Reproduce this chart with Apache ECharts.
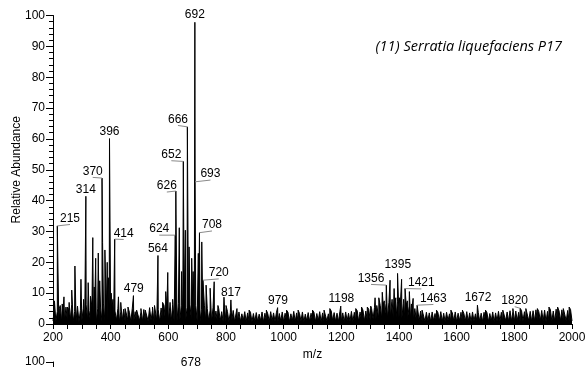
<!DOCTYPE html>
<html>
<head>
<meta charset="utf-8">
<script src="https://cdn.jsdelivr.net/npm/echarts@6/dist/echarts.min.js"></script>
<style>
html,body{margin:0;padding:0;background:#fff;overflow:hidden;}
#chart{width:587px;height:367px;}
</style>
</head>
<body>
<div id="chart"></div>
<script>
// ---- data ----
const titleText = "(11) Serratia liquefaciens P17";
const xTickValues = [200, 400, 600, 800, 1000, 1200, 1400, 1600, 1800, 2000];
const yTickValues = [0, 10, 20, 30, 40, 50, 60, 70, 80, 90, 100];

// baseline noise, one value every 5 m/z starting at 200
const noiseStart = 200;
const noiseStep = 5;
const noiseValues = [
  1.0,5.2,0.8,4.1,1.2,6.0,0.7,3.8,1.1,5.5,0.9,4.6,1.3,6.4,0.8,4.0,1.0,5.8,0.7,4.4,
  1.1,5.0,0.8,6.2,1.2,4.3,0.9,5.6,1.0,6.8,0.7,4.9,1.3,5.2,0.8,6.5,1.1,4.7,0.9,5.9,
  1.0,5.4,0.8,4.2,1.2,5.0,0.7,3.9,1.1,4.8,0.9,4.4,1.2,3.8,0.8,5.1,1.0,4.0,0.7,4.6,
  1.1,3.9,0.8,4.7,1.0,4.1,0.9,5.3,1.2,4.4,0.7,5.8,1.1,4.6,0.8,5.2,1.0,6.1,0.9,5.0,
  1.2,5.5,0.8,6.3,1.0,5.1,0.9,6.6,1.3,5.9,0.8,6.9,1.1,5.4,0.9,6.2,1.2,5.7,0.8,6.0,
  1.0,5.6,0.9,4.8,1.2,6.1,0.8,5.0,1.1,4.5,0.7,5.3,1.0,4.2,0.9,4.9,1.1,4.0,0.8,5.2,
  1.0,4.1,0.8,3.7,1.1,4.4,0.7,3.5,1.0,3.9,0.9,3.3,1.2,4.0,0.8,3.6,1.0,3.8,0.7,3.4,
  0.9,3.7,0.8,3.2,1.1,3.9,0.7,3.5,1.0,3.3,0.8,4.0,1.1,3.6,0.9,3.8,0.7,3.4,1.0,3.9,
  0.8,3.5,1.0,3.8,0.7,3.3,1.1,4.1,0.9,3.6,0.8,3.4,1.0,3.9,0.7,3.2,1.1,3.7,0.9,3.5,
  1.0,3.8,0.8,3.4,1.1,4.0,0.7,3.6,0.9,3.9,1.0,3.3,0.8,4.2,1.1,3.7,0.9,3.5,0.8,4.0,
  1.0,3.6,0.7,3.9,1.1,3.5,0.9,4.1,0.8,3.8,1.0,4.3,0.9,3.9,1.2,4.5,1.0,4.2,1.3,4.8,
  1.4,5.0,1.6,5.4,1.5,5.8,1.8,6.0,1.7,6.4,2.0,6.6,1.9,7.0,2.2,7.2,2.0,6.8,2.3,7.4,
  2.1,7.0,2.0,6.6,1.8,6.2,1.7,5.8,1.5,5.4,1.4,5.0,1.2,4.6,1.1,4.2,1.0,4.0,0.9,3.8,
  1.0,3.6,0.8,3.9,1.1,3.4,0.7,3.7,1.0,4.0,0.9,3.5,0.8,3.8,1.1,3.3,0.9,3.6,1.0,3.9,
  0.8,3.5,1.1,3.8,0.7,3.4,1.0,4.0,0.9,3.6,0.8,3.9,1.0,3.3,1.1,3.7,0.9,3.5,0.8,3.8,
  1.0,3.7,0.8,3.4,1.1,3.9,0.7,3.6,1.0,4.1,0.9,3.8,0.8,4.2,1.1,3.9,0.9,4.3,1.0,4.0,
  0.9,4.2,1.1,3.8,0.8,4.4,1.0,4.0,0.9,4.5,1.1,4.1,0.8,4.3,1.0,4.6,0.9,4.0,1.1,4.4,
  1.0,4.5,0.8,4.1,1.1,4.7,0.9,4.2,1.0,4.8,0.8,4.3,1.1,4.6,0.9,4.9,1.0,4.4,0.8,4.7,
  1.0
];

// unlabeled peaks
const peakMz = [205,222,232,238,250,256,265,276,285,297,
  306,322,330,338,343,348,357,362,372,380,
  388,392,402,408,427,435,450,460,490,505,
  520,545,552,580,591,598,606,615,638,646,
  659,672,681,686,704,716,731,745,759,772,
  793,800,838,880,940,1010,1050,1100,1140,1160,
  1250,1270,1290,1302,1317,1323,1330,1336,1342,1349,
  1369,1376,1383,1389,1402,1409,1416,1429,1436,1443,
  1449,1480,1530,1580,1620,1700,1760,1795,1840,1880,
  1920,1950,1970,1990];
const peakHeights = [7.5,5,6.5,8.8,5.5,7,11,18.8,6,14.5,
  8,13.4,9,28,12,21.3,23,14,26.4,24,
  20,15,10,8,8.8,7,5,5.5,4.5,5,
  4.5,5.5,6,7,10.5,16.7,7,8,31.2,17,
  30.4,25,21.3,17,22.9,26.6,12.6,11.6,13.7,6,
  8.7,6,5,4.5,4.5,4.5,4.5,4.5,4.5,5,
  5,5.5,5.5,5.8,8.5,6,8.5,6.5,10.3,7.5,
  14.2,8,11.5,8.5,8.5,14.5,8,7.5,10.5,6.5,
  8.3,4.5,4.5,4.5,4.5,4.5,4.5,5,5,5,
  5.5,5.5,5,5.5];

// labeled peaks
const labelMz = [215,314,370,396,414,479,564,624,626,652,666,692,693,708,720,817,979,1198,1356,1395,1421,1463,1672,1820];
const labelHeights = [31.8,41.4,47.3,60.1,27.5,9.2,22.2,28.8,43.1,52.7,63.9,97.8,46.1,29.6,14.2,7.8,5.3,5.8,12.6,16.4,11.5,6.1,6.1,5.1];

// second (cut-off) panel
const panel2Mz = [678];
const panel2Heights = [97.2];

// ---- style: label offsets (px from peak top) and leader flag ----
const labelStyle = {
  215:[12.7,-7.4,1], 314:[0,-7,0], 370:[-9.3,-6.7,1], 396:[0,-7.3,0], 414:[9,-5.7,1],
  479:[0.3,-7.4,0], 564:[0,-7,0], 624:[-16,-6,1], 626:[-9,-5,1], 652:[-12,-6.7,1],
  666:[-9.4,-7.4,1], 692:[0,-7.7,0], 693:[15.3,-7.7,1], 708:[12.5,-7.7,1], 720:[15.8,-7.3,1],
  817:[0,-7.3,0], 979:[0.4,-7,0], 1198:[0.6,-7.7,0], 1356:[-15.3,-6.7,1], 1395:[0.2,-8.3,0],
  1421:[16.3,-5.6,1], 1463:[16.2,-6.7,1], 1672:[0.6,-7.7,0], 1820:[-5.4,-7.6,1], 678:[0,-7.7,0]
};

// ---- build ----
const spectrum = [];
noiseValues.forEach((v, i) => spectrum.push([noiseStart + i * noiseStep, v]));
peakMz.forEach((m, i) => spectrum.push([m, peakHeights[i]]));
labelMz.forEach((m, i) => spectrum.push([m, labelHeights[i]]));
spectrum.sort((a, b) => a[0] - b[0]);

const labelData = labelMz.map((m, i) => [m, labelHeights[i]]);
const panel2Data = panel2Mz.map((m, i) => [m, panel2Heights[i]]);
const panel2Line = [];
panel2Mz.forEach((m, i) => { panel2Line.push([m - 2, 0], [m, panel2Heights[i]], [m + 2, 0]); });

const FONT = "'Liberation Sans', Arial, sans-serif";

function labelRender(params, api) {
  const mz = api.value(0), h = api.value(1);
  const p = api.coord([mz, h]);
  const st = labelStyle[mz] || [0, -7.5, 0];
  const children = [];
  if (st[2]) {
    children.push({
      type: 'line',
      shape: { x1: p[0], y1: p[1], x2: p[0] + st[0], y2: p[1] + st[1] + 6 },
      style: { stroke: '#8a8a8a', lineWidth: 1 }
    });
  }
  children.push({
    type: 'text',
    x: p[0] + st[0], y: p[1] + st[1],
    style: { text: String(mz), align: 'center', verticalAlign: 'middle',
             fontSize: 12, fontFamily: FONT, fill: '#000' }
  });
  return { type: 'group', children: children };
}

function xAxisCfg(gridIndex, show) {
  return {
    type: 'value', gridIndex: gridIndex, min: 200, max: 2000, interval: 200,
    name: show ? 'm/z' : '', nameLocation: 'middle', nameGap: 24,
    nameTextStyle: { fontSize: 12, fontFamily: FONT, color: '#000' },
    axisLine: { show: true, onZero: false, lineStyle: { color: '#000', width: 1 } },
    axisTick: { show: true, length: 5, lineStyle: { color: '#000' } },
    minorTick: { show: true, splitNumber: 4, length: 5, lineStyle: { color: '#000' } },
    axisLabel: { show: show, fontSize: 12, fontFamily: FONT, color: '#000', margin: 8,
                 formatter: v => xTickValues.indexOf(v) >= 0 ? String(v) : '' },
    splitLine: { show: false }
  };
}
function yAxisCfg(gridIndex, name) {
  return {
    type: 'value', gridIndex: gridIndex, min: 0, max: 100, interval: 10,
    name: name, nameLocation: 'middle', nameGap: 30, nameMoveOverlap: false,
    nameTextStyle: { fontSize: 12, fontFamily: FONT, color: '#000' },
    axisLine: { show: true, lineStyle: { color: '#000', width: 1 } },
    axisTick: { show: true, length: 7, lineStyle: { color: '#000' } },
    minorTick: { show: true, splitNumber: 5, length: 4, lineStyle: { color: '#000' } },
    axisLabel: { fontSize: 12, fontFamily: FONT, color: '#000', margin: 8,
                 formatter: v => yTickValues.indexOf(v) >= 0 ? String(v) : '' },
    splitLine: { show: false }
  };
}

const chart = echarts.init(document.getElementById('chart'), null, { renderer: 'canvas' });
chart.setOption({
  animation: false,
  backgroundColor: '#fff',
  graphic: [{
    type: 'text', x: 562, y: 46.5,
    style: { text: titleText, align: 'right', verticalAlign: 'middle',
             font: 'italic 14.5px "Open Sans", sans-serif', fill: '#000' }
  }],
  grid: [
    { left: 53, top: 15.5, width: 519, height: 308.5, outerBoundsMode: 'none', containLabel: false },
    { left: 53, top: 362, width: 519, height: 308.5, outerBoundsMode: 'none', containLabel: false }
  ],
  xAxis: [xAxisCfg(0, true), xAxisCfg(1, false)],
  yAxis: [yAxisCfg(0, 'Relative Abundance'), yAxisCfg(1, '')],
  series: [
    { type: 'line', xAxisIndex: 0, yAxisIndex: 0, data: spectrum, showSymbol: false,
      symbol: 'none', sampling: null, lineStyle: { color: '#000', width: 1 },
      areaStyle: { color: '#000', opacity: 1, origin: 'start' }, z: 2 },
    { type: 'custom', xAxisIndex: 0, yAxisIndex: 0, data: labelData, renderItem: labelRender, z: 3 },
    { type: 'line', xAxisIndex: 1, yAxisIndex: 1, data: panel2Line,
      showSymbol: false, symbol: 'none', lineStyle: { color: '#000', width: 1 }, z: 2 },
    { type: 'custom', xAxisIndex: 1, yAxisIndex: 1, data: panel2Data, renderItem: labelRender, z: 3, clip: false }
  ]
});
</script>
</body>
</html>
